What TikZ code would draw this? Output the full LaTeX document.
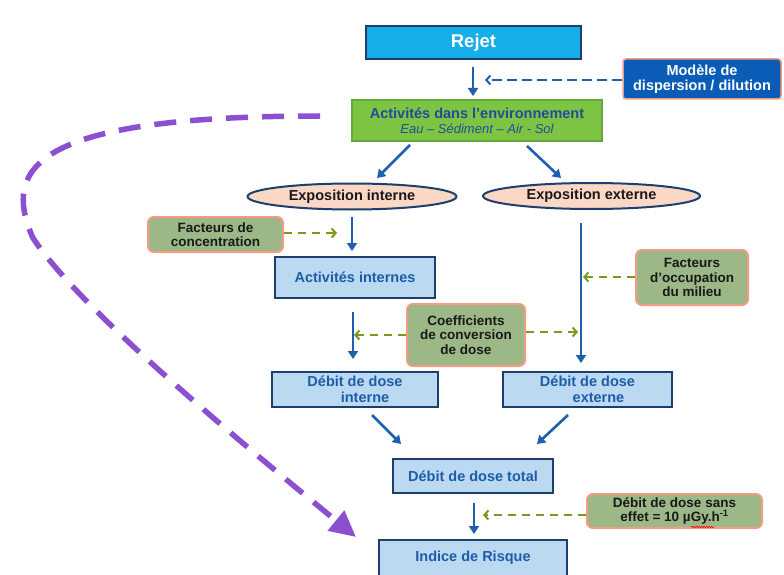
\documentclass[tikz,border=0pt]{standalone}
\usepackage{fontspec}
\setmainfont{Liberation Sans}
\usetikzlibrary{arrows.meta,shapes.geometric,decorations.pathmorphing}

\definecolor{rejetfill}{HTML}{16ADE8}
\definecolor{navyline}{HTML}{1C3F6E}
\definecolor{modelfill}{HTML}{0A5CB6}
\definecolor{salmon}{HTML}{F29C86}
\definecolor{envfill}{HTML}{7DC443}
\definecolor{envline}{HTML}{62A83A}
\definecolor{envtext}{HTML}{1F4E9A}
\definecolor{expofill}{HTML}{FBD7C6}
\definecolor{sagefill}{HTML}{9BB886}
\definecolor{paleblue}{HTML}{BBDAF2}
\definecolor{boxtext}{HTML}{1F5CA8}
\definecolor{flowblue}{HTML}{1F5FB0}
\definecolor{olive}{HTML}{7A9A1E}
\definecolor{violet}{HTML}{8C4FD0}

\begin{document}
\begin{tikzpicture}[x=1pt,y=-1pt,
  every node/.style={inner sep=0pt, align=center},
  flowbox/.style={draw=navyline, line width=1.8pt, fill=paleblue, text=boxtext,
    font=\bfseries\fontsize{14.5}{16}\selectfont},
  factorbox/.style={draw=salmon, line width=2pt, fill=sagefill, rounded corners=6pt,
    text=black!90, font=\bfseries\fontsize{13.5}{14.5}\selectfont},
  expo/.style={ellipse, draw=navyline, line width=2pt, fill=expofill, text=black!90,
    font=\bfseries\fontsize{14.5}{16}\selectfont},
  flow/.style={draw=flowblue, line width=2.6pt, -{Triangle[length=8pt,width=10pt]}},
  hint/.style={draw=olive, line width=2pt, dash pattern=on 8pt off 6pt,
    -{Straight Barb[length=4pt,width=9pt,line width=2pt]}},
  modelhint/.style={draw=flowblue, line width=2pt, dash pattern=on 10pt off 5pt,
    -{Straight Barb[length=4pt,width=9pt,line width=2pt]}},
]
\useasboundingbox (0,0) rectangle (784,575);

% upper chain
\node[draw=navyline, line width=1.2pt, fill=rejetfill, text=white,
  font=\bfseries\fontsize{18.5}{20}\selectfont,
  minimum width=215pt, minimum height=33pt] (rejet) at (473.5,42.5) {Rejet};
\node[draw=salmon, line width=1.5pt, fill=modelfill, text=white, rounded corners=3pt,
  font=\bfseries\fontsize{14.5}{14.5}\selectfont,
  minimum width=158pt, minimum height=40pt] (modele) at (702,79) {Modèle de\\dispersion / dilution};
\node[draw=envline, line width=1.2pt, fill=envfill, text=envtext,
  minimum width=250pt, minimum height=41pt] (env) at (477,120.5)
  {{\bfseries\fontsize{14.5}{16}\selectfont Activités dans l’environnement}\\[2.5pt]
   {\itshape\fontsize{13}{14}\selectfont Eau – Sédiment – Air - Sol}};

\coordinate (rejetout) at (473,67);
\coordinate (envin) at (473,96);
\draw[flow] (rejetout) -- (envin);
\coordinate (modeltip) at (485,80);
\draw[modelhint] (modele.west |- modeltip) -- (modeltip);

% exposure ellipses
\node[expo, minimum width=209pt, minimum height=26pt] (expint) at (352,196.5) {Exposition interne};
\node[expo, minimum width=217pt, minimum height=26pt] (expext) at (591.5,196) {Exposition externe};
\coordinate (envl) at (410,145);
\coordinate (envr) at (527,146);
\coordinate (intin) at (377,178);
\coordinate (extin) at (561,178);
\draw[flow] (envl) -- (intin);
\draw[flow] (envr) -- (extin);

% internal branch
\node[factorbox, minimum width=135pt, minimum height=35pt] (conc) at (215.5,234.5) {Facteurs de\\concentration};
\node[flowbox, minimum width=160pt, minimum height=41pt] (actint) at (355,277.5) {Activités internes};
\coordinate (a1) at (352,217);
\coordinate (a2) at (352,251);
\draw[flow] (a1) -- (a2);
\coordinate (conctip) at (337,233);
\draw[hint] (conc.east |- conctip) -- (conctip);

\coordinate (b1) at (353,312);
\coordinate (b2) at (353,359);
\draw[flow] (b1) -- (b2);

\node[factorbox, minimum width=118pt, minimum height=62pt] (coef) at (466,335) {Coefficients\\de conversion\\de dose};
\coordinate (coeftipl) at (354,335);
\coordinate (coeftipr) at (578,332);
\draw[hint] (coef.west |- coeftipl) -- (coeftipl);
\draw[hint] (coef.east |- coeftipr) -- (coeftipr);

% external branch
\coordinate (c1) at (581,223);
\coordinate (c2) at (581,363);
\draw[flow] (c1) -- (c2);
\node[factorbox, minimum width=112pt, minimum height=55pt] (occup) at (692,277.5) {Facteurs\\d’occupation\\du milieu};
\coordinate (occtip) at (583,277);
\draw[hint] (occup.west |- occtip) -- (occtip);

% dose rates
\node[flowbox, minimum width=166pt, minimum height=35pt] (ddint) at (355,389.5) {Débit de dose\\\hspace*{20pt}interne};
\node[flowbox, minimum width=169pt, minimum height=35pt] (ddext) at (587.5,389.5) {Débit de dose\\\hspace*{22pt}externe};
\node[flowbox, minimum width=160pt, minimum height=34pt] (ddtot) at (473,476) {Débit de dose total};
\coordinate (d1) at (372,415);
\coordinate (d2) at (401,444);
\coordinate (e1) at (568,415);
\coordinate (e2) at (537,444);
\draw[flow] (d1) -- (d2);
\draw[flow] (e1) -- (e2);

\node[factorbox, minimum width=175pt, minimum height=34pt] (seuil) at (674.5,511)
  {Débit de dose sans\\effet = 10 µGy.h\textsuperscript{-1}};
\draw[red, line width=0.6pt, decorate, decoration={snake, segment length=2.5pt, amplitude=0.7pt}]
  (691,527) -- (714,527);

\node[flowbox, minimum width=188pt, minimum height=36pt] (indice) at (473,558) {Indice de Risque};
\coordinate (f1) at (474,503);
\coordinate (f2) at (474,534);
\draw[flow] (f1) -- (f2);
\coordinate (seuiltip) at (483,515);
\draw[hint] (seuil.west |- seuiltip) -- (seuiltip);

% shortcut from environmental activities to the risk index
\coordinate (shortstart) at (320,116);
\coordinate (shortend) at (356,537);
\draw[violet, line width=5.5pt, dash pattern=on 22pt off 14pt,
  -{Triangle[length=26pt,width=25pt]}]
  (shortstart) .. controls (40,116) and (0,165) .. (33,238)
  .. controls (80,310) and (250,450) .. (shortend);
\end{tikzpicture}
\end{document}
